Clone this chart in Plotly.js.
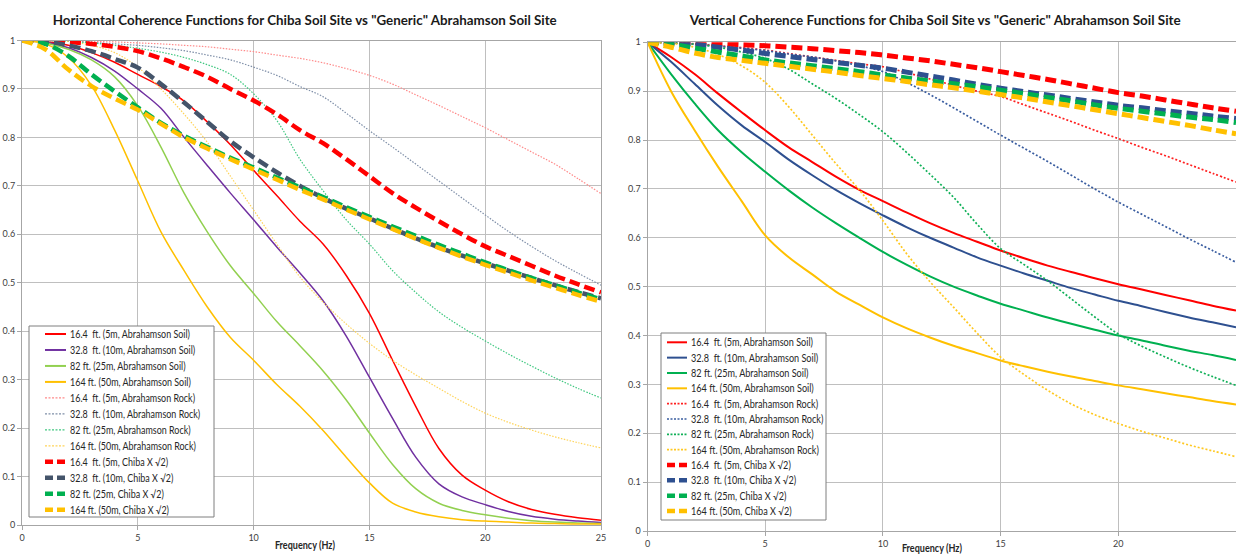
<!DOCTYPE html>
<html>
<head>
<meta charset="utf-8">
<script src="https://cdn.plot.ly/plotly-3.0.1.min.js"></script>
<style>html,body{margin:0;padding:0;background:#fff;}#chart{width:1236px;height:554px;}</style>
</head>
<body>
<div id="chart"></div>
<script>
// ---------- DATA ----------
const freq = [0,1,2,3,4,5,6,7,8,9,10,11,12,13,14,15,16,17,18,19,20,21,22,23,24,25];

const legendLabels = [
  '16.4\u00a0 ft. (5m, Abrahamson Soil)', '32.8\u00a0 ft. (10m, Abrahamson Soil)',
  '82 ft. (25m, Abrahamson Soil)', '164 ft. (50m, Abrahamson Soil)',
  '16.4\u00a0 ft. (5m, Abrahamson Rock)', '32.8\u00a0 ft. (10m, Abrahamson Rock)',
  '82 ft. (25m, Abrahamson Rock)', '164 ft. (50m, Abrahamson Rock)',
  '16.4\u00a0 ft. (5m, Chiba X \u221a2)', '32.8\u00a0 ft. (10m, Chiba X \u221a2)',
  '82 ft. (25m, Chiba X \u221a2)', '164 ft. (50m, Chiba X \u221a2)'
];

// Horizontal coherence (left chart)
const hSoil5   = [1,0.998,0.99,0.975,0.955,0.93,0.905,0.875,0.832,0.785,0.732,0.68,0.627,0.58,0.515,0.437,0.34,0.245,0.158,0.103,0.072,0.048,0.032,0.022,0.015,0.01];
const hSoil10  = [1,0.997,0.985,0.965,0.937,0.9,0.86,0.8,0.742,0.685,0.63,0.574,0.52,0.463,0.39,0.305,0.22,0.14,0.085,0.058,0.042,0.028,0.018,0.012,0.008,0.005];
const hSoil25  = [1,0.995,0.982,0.96,0.925,0.865,0.78,0.685,0.605,0.535,0.478,0.42,0.37,0.318,0.258,0.19,0.125,0.075,0.045,0.03,0.021,0.014,0.009,0.006,0.004,0.003];
const hSoil50  = [1,0.993,0.965,0.907,0.815,0.71,0.605,0.525,0.45,0.387,0.34,0.29,0.245,0.195,0.14,0.087,0.045,0.027,0.017,0.011,0.008,0.006,0.004,0.003,0.002,0.002];
const hRock5   = [1,1,0.999,0.998,0.997,0.995,0.993,0.99,0.987,0.982,0.977,0.97,0.963,0.954,0.942,0.928,0.91,0.888,0.866,0.843,0.82,0.795,0.77,0.745,0.715,0.684];
const hRock10  = [1,1,0.998,0.996,0.993,0.99,0.985,0.979,0.97,0.96,0.945,0.928,0.905,0.884,0.85,0.814,0.78,0.745,0.71,0.675,0.64,0.606,0.575,0.546,0.52,0.495];
const hRock25  = [1,1,0.998,0.995,0.99,0.984,0.976,0.965,0.95,0.93,0.89,0.835,0.755,0.69,0.63,0.58,0.525,0.48,0.44,0.408,0.38,0.353,0.328,0.304,0.282,0.262];
const hRock50  = [1,1,0.998,0.99,0.975,0.945,0.9,0.848,0.79,0.72,0.65,0.58,0.512,0.46,0.415,0.375,0.34,0.31,0.282,0.255,0.231,0.212,0.196,0.182,0.17,0.159];
const hChiba5  = [1,0.999,0.997,0.993,0.987,0.978,0.963,0.945,0.925,0.9,0.876,0.848,0.815,0.788,0.755,0.72,0.685,0.655,0.627,0.6,0.575,0.555,0.535,0.515,0.497,0.48];
const hChiba10 = [1,0.998,0.99,0.978,0.962,0.944,0.91,0.872,0.832,0.792,0.759,0.728,0.7,0.675,0.653,0.633,0.612,0.592,0.573,0.556,0.54,0.525,0.51,0.495,0.481,0.468];
const hChiba25 = [1,0.993,0.968,0.93,0.895,0.862,0.83,0.803,0.78,0.758,0.738,0.717,0.697,0.677,0.656,0.636,0.616,0.597,0.578,0.56,0.542,0.526,0.51,0.495,0.48,0.466];
const hChiba50 = [1,0.982,0.94,0.906,0.88,0.857,0.828,0.8,0.777,0.755,0.734,0.713,0.692,0.672,0.651,0.631,0.611,0.591,0.572,0.554,0.537,0.521,0.505,0.49,0.475,0.461];

// Vertical coherence (right chart)
const vSoil5   = [1,0.97,0.935,0.895,0.857,0.82,0.785,0.755,0.725,0.698,0.675,0.652,0.63,0.61,0.592,0.574,0.558,0.543,0.53,0.517,0.505,0.494,0.483,0.472,0.461,0.451];
const vSoil10  = [1,0.96,0.915,0.87,0.83,0.796,0.76,0.728,0.698,0.671,0.646,0.622,0.6,0.58,0.56,0.543,0.527,0.512,0.497,0.484,0.471,0.46,0.448,0.437,0.427,0.417];
const vSoil25  = [1,0.935,0.875,0.82,0.775,0.735,0.697,0.662,0.63,0.6,0.571,0.545,0.521,0.5,0.482,0.465,0.451,0.437,0.424,0.412,0.4,0.39,0.379,0.369,0.36,0.35];
const vSoil50  = [1,0.9,0.82,0.745,0.675,0.605,0.56,0.525,0.49,0.463,0.437,0.415,0.396,0.379,0.364,0.349,0.337,0.326,0.316,0.307,0.298,0.29,0.282,0.274,0.266,0.259];
const vRock5   = [1,0.999,0.997,0.993,0.989,0.984,0.977,0.97,0.963,0.956,0.95,0.938,0.925,0.912,0.9,0.889,0.872,0.855,0.838,0.82,0.803,0.785,0.768,0.75,0.732,0.714];
const vRock10  = [1,0.999,0.996,0.992,0.988,0.983,0.976,0.97,0.962,0.952,0.94,0.918,0.893,0.866,0.838,0.81,0.783,0.756,0.728,0.7,0.673,0.648,0.623,0.598,0.574,0.55];
const vRock25  = [1,0.999,0.996,0.99,0.98,0.967,0.945,0.915,0.885,0.852,0.817,0.775,0.73,0.683,0.628,0.578,0.545,0.512,0.475,0.438,0.403,0.378,0.356,0.335,0.316,0.298];
const vRock50  = [1,0.998,0.99,0.975,0.952,0.918,0.868,0.81,0.752,0.698,0.635,0.568,0.51,0.458,0.405,0.356,0.32,0.288,0.26,0.238,0.22,0.204,0.19,0.176,0.164,0.152];
const vChiba5  = [1,1,0.999,0.997,0.995,0.993,0.99,0.987,0.983,0.979,0.974,0.968,0.962,0.955,0.948,0.94,0.932,0.924,0.915,0.906,0.897,0.89,0.882,0.874,0.866,0.859];
const vChiba10 = [1,0.999,0.996,0.99,0.984,0.977,0.971,0.965,0.959,0.953,0.947,0.939,0.931,0.923,0.914,0.906,0.899,0.892,0.885,0.878,0.871,0.866,0.86,0.855,0.849,0.844];
const vChiba25 = [1,0.996,0.988,0.98,0.972,0.964,0.958,0.952,0.946,0.94,0.933,0.927,0.921,0.915,0.909,0.902,0.895,0.887,0.88,0.872,0.865,0.859,0.853,0.847,0.842,0.836];
const vChiba50 = [1,0.99,0.978,0.969,0.963,0.957,0.951,0.945,0.939,0.932,0.926,0.92,0.913,0.907,0.9,0.893,0.886,0.878,0.87,0.862,0.854,0.846,0.838,0.83,0.821,0.813];

const hSeries = [hSoil5,hSoil10,hSoil25,hSoil50,hRock5,hRock10,hRock25,hRock50,hChiba5,hChiba10,hChiba25,hChiba50];
const vSeries = [vSoil5,vSoil10,vSoil25,vSoil50,vRock5,vRock10,vRock25,vRock50,vChiba5,vChiba10,vChiba25,vChiba50];

// ---------- STYLES ----------
const FONT = 'Lato, "Liberation Sans", "DejaVu Sans", sans-serif';
const W = 1236, H = 554;
const DASH_L = '11px,5px', DASH_R = '11px,5px';
const hStyles = [
  {color:'#FF0000', width:1.5, dash:'solid'}, {color:'#7030A0', width:1.5, dash:'solid'},
  {color:'#92D050', width:1.5, dash:'solid'}, {color:'#FFC000', width:1.5, dash:'solid'},
  {color:'#FF8A8A', width:1.2, dash:'1.5px,1.5px'}, {color:'#7F8FA8', width:1.2, dash:'1.5px,1.5px'},
  {color:'#40C880', width:1.2, dash:'1.5px,1.5px'}, {color:'#FFD45A', width:1.2, dash:'1.5px,1.5px'},
  {color:'#FF0000', width:4.5, dash:DASH_L}, {color:'#44546A', width:4.5, dash:DASH_L},
  {color:'#00B050', width:4.5, dash:DASH_L}, {color:'#FFC000', width:4.5, dash:DASH_L}
];
const vStyles = [
  {color:'#FF0000', width:2, dash:'solid'}, {color:'#2E5090', width:2, dash:'solid'},
  {color:'#00B050', width:2, dash:'solid'}, {color:'#FFC000', width:2, dash:'solid'},
  {color:'#FF2020', width:1.7, dash:'2px,2px'}, {color:'#3A5DA0', width:1.7, dash:'2px,2px'},
  {color:'#10B058', width:1.7, dash:'2px,2px'}, {color:'#FFC820', width:1.7, dash:'2px,2px'},
  {color:'#FF0000', width:5, dash:DASH_R}, {color:'#2E5090', width:5, dash:DASH_R},
  {color:'#00B050', width:5, dash:DASH_R}, {color:'#FFC000', width:5, dash:DASH_R}
];

const traces = [];
hSeries.forEach((ys,i)=>traces.push({x:freq, y:ys, type:'scatter', mode:'lines', name:legendLabels[i],
  xaxis:'x', yaxis:'y', showlegend:false, hoverinfo:'skip',
  line:{color:hStyles[i].color, width:hStyles[i].width, dash:hStyles[i].dash, shape:'spline', smoothing:1}}));
vSeries.forEach((ys,i)=>traces.push({x:freq, y:ys, type:'scatter', mode:'lines', name:legendLabels[i],
  xaxis:'x2', yaxis:'y2', showlegend:false, hoverinfo:'skip',
  line:{color:vStyles[i].color, width:vStyles[i].width, dash:vStyles[i].dash, shape:'spline', smoothing:1}}));

const px = v => v / W;
const py = v => (H - v) / H;

const axisCommon = {
  showgrid:true, gridcolor:'#BFBFBF', gridwidth:1, zeroline:false,
  showline:true, linecolor:'#A6A6A6', linewidth:1, mirror:true,
  ticks:'outside', ticklen:4, tickcolor:'#A6A6A6',
  tickfont:{family:FONT, size:9, color:'#404040'}, fixedrange:true
};

// custom legends (boxes + samples + text); squeeze targets keep the reference's condensed text widths
const shapes = [], annotations = [], squeeze = {};
function buildLegend(box, sample, textX, y0, step, styles, refWidth, isRight) {
  shapes.push({type:'rect', xref:'paper', yref:'paper', layer:'above',
    x0:px(box[0]), x1:px(box[1]), y0:py(box[2]), y1:py(box[3]),
    line:{color:'#7F7F7F', width:1}, fillcolor:'#FFFFFF'});
  const first = annotations.length;
  styles.forEach((s,i)=>{
    const yy = y0 + step*i;
    const isDash = i >= 8;
    const isDot = i >= 4 && i < 8;
    shapes.push({type:'line', xref:'paper', yref:'paper', layer:'above',
      x0:px(sample[0]), x1:px(sample[1]), y0:py(yy), y1:py(yy),
      line:{color:s.color, width: isDash ? 4.5 : (isDot ? (isRight?1.7:1.3) : 2),
            dash: isDash ? '8px,4px' : (isDot ? '2px,1.5px' : 'solid')}});
    squeeze[annotations.length] = {ref:first, refWidth:refWidth};
    annotations.push({xref:'paper', yref:'paper', x:px(textX), y:py(yy), xanchor:'left', yanchor:'middle', align:'left',
      text:legendLabels[i], showarrow:false, font:{family:FONT, size:10.5, color:'#262626'}});
  });
}
buildLegend([29,214,326,517],[45,66],67.5,334,15.97,hStyles,120,false);
buildLegend([661,826,333,520],[667,687],689,342.3,15.34,vStyles,122,true);

squeeze[annotations.length] = {width:504};
annotations.push({xref:'paper', yref:'paper', x:px(305), y:py(20.5), xanchor:'center', yanchor:'middle', showarrow:false,
   text:'<b>Horizontal Coherence Functions for Chiba Soil Site vs "Generic" Abrahamson Soil Site</b>',
   font:{family:FONT, size:13.5, color:'#1A1A1A'}});
squeeze[annotations.length] = {width:491};
annotations.push({xref:'paper', yref:'paper', x:px(934.5), y:py(20.5), xanchor:'center', yanchor:'middle', showarrow:false,
   text:'<b>Vertical Coherence Functions for Chiba Soil Site vs "Generic" Abrahamson Soil Site</b>',
   font:{family:FONT, size:13.5, color:'#1A1A1A'}});
squeeze[annotations.length] = {width:60};
annotations.push({xref:'paper', yref:'paper', x:px(305), y:py(545), xanchor:'center', yanchor:'middle', showarrow:false,
   text:'<b>Frequency (Hz)</b>', font:{family:FONT, size:10.5, color:'#262626'}});
squeeze[annotations.length] = {width:60};
annotations.push({xref:'paper', yref:'paper', x:px(932), y:py(548), xanchor:'center', yanchor:'middle', showarrow:false,
   text:'<b>Frequency (Hz)</b>', font:{family:FONT, size:10.5, color:'#262626'}});

const layout = {
  width:W, height:H, margin:{l:0, r:0, t:0, b:0}, paper_bgcolor:'#FFFFFF', plot_bgcolor:'#FFFFFF',
  showlegend:false, font:{family:FONT},
  xaxis: Object.assign({}, axisCommon, {domain:[px(22), px(601)], range:[0,25], tick0:0, dtick:5, anchor:'y'}),
  yaxis: Object.assign({}, axisCommon, {domain:[py(525), py(40.5)], range:[0,1], tick0:0, dtick:0.1, anchor:'x'}),
  xaxis2: Object.assign({}, axisCommon, {domain:[px(647.5), 1], range:[0,25], tick0:0, dtick:5, anchor:'y2'}),
  yaxis2: Object.assign({}, axisCommon, {domain:[py(531), py(42.3)], range:[0,1], tick0:0, dtick:0.1, anchor:'x2'}),
  shapes: shapes, annotations: annotations
};

Plotly.newPlot('chart', traces, layout, {displayModeBar:false, staticPlot:true}).then(gd => {
  const texts = {};
  gd.querySelectorAll('g.annotation').forEach(g => {
    const t = g.querySelector('text.annotation-text');
    if (t) texts[+g.getAttribute('data-index')] = t;
  });
  const natural = {};
  Object.keys(texts).forEach(k => { natural[k] = texts[k].getComputedTextLength(); });
  Object.keys(squeeze).forEach(k => {
    const s = squeeze[k], t = texts[k];
    if (!t) return;
    let target;
    if (s.width) target = s.width;
    else target = natural[k] * (s.refWidth / natural[s.ref]);
    if (target < natural[k]) {
      t.setAttribute('textLength', target.toFixed(2));
      t.setAttribute('lengthAdjust', 'spacingAndGlyphs');
    }
  });
});
</script>
</body>
</html>
